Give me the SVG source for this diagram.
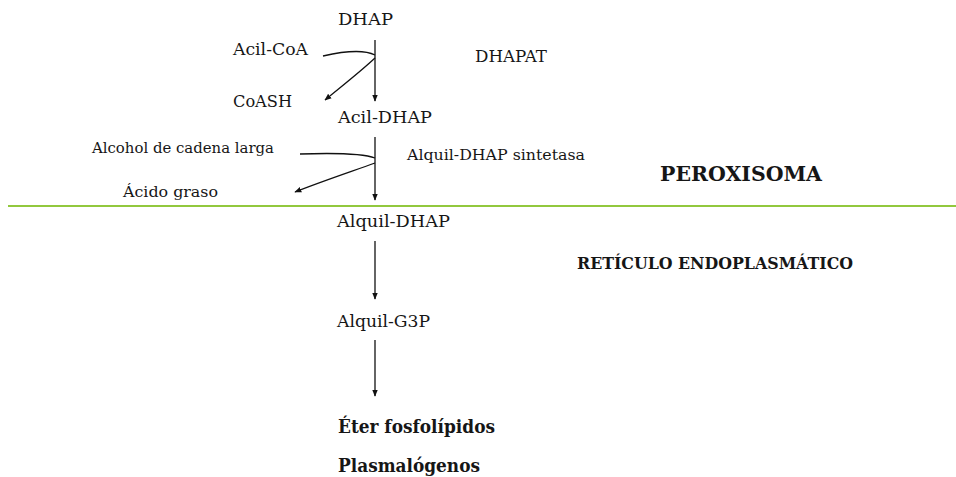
<svg xmlns="http://www.w3.org/2000/svg" width="956" height="477" viewBox="0 0 956 477">
  <style>
    .lbl { font-size: 16px; }
    .sm { font-size: 14px; }
    .bold { font-weight: bold; }
    .conn { fill: none; stroke: #111; stroke-width: 1.3; }
  </style>
  <defs>
    <marker id="arr" viewBox="0 0 10 10" refX="9" refY="5" markerWidth="7" markerHeight="7" orient="auto" markerUnits="userSpaceOnUse">
      <path d="M0,1 L10,5 L0,9 Z" fill="#111"/>
    </marker>
  </defs>

  <rect width="956" height="477" fill="#fff"/>

  <!-- membrane between compartments -->
  <line x1="8" y1="206" x2="956" y2="206" stroke="#92c83e" stroke-width="2"/>

  <g id="connectors">
    <line class="conn" x1="375" y1="40" x2="375" y2="101" marker-end="url(#arr)"/>
    <path class="conn" d="M323,56 C345,51 365,50 375,55"/>
    <path class="conn" d="M375,58 C360,72 342,86 325,100" marker-end="url(#arr)"/>
    <line class="conn" x1="375" y1="137" x2="375" y2="200" marker-end="url(#arr)"/>
    <path class="conn" d="M300,154 C330,153 362,153 375,158"/>
    <path class="conn" d="M375,163 C350,172 320,182 295,192" marker-end="url(#arr)"/>
    <line class="conn" x1="375" y1="241" x2="375" y2="299" marker-end="url(#arr)"/>
    <line class="conn" x1="375" y1="340" x2="375" y2="396" marker-end="url(#arr)"/>
  </g>

  <g font-family="DejaVu Serif, Liberation Serif, serif" fill="#161616">
    <g id="dhap"><text class="lbl" x="338" y="25" textLength="55" lengthAdjust="spacingAndGlyphs">DHAP</text></g>
    <g id="acil-coa"><text class="lbl" x="233" y="55" textLength="75" lengthAdjust="spacingAndGlyphs">Acil-CoA</text></g>
    <g id="coash"><text class="lbl" x="233" y="107" textLength="59" lengthAdjust="spacingAndGlyphs">CoASH</text></g>
    <g id="dhapat"><text class="lbl" x="475" y="62" textLength="72" lengthAdjust="spacingAndGlyphs">DHAPAT</text></g>
    <g id="acil-dhap"><text class="lbl" x="338" y="123" textLength="94" lengthAdjust="spacingAndGlyphs">Acil-DHAP</text></g>
    <g id="alcohol"><text class="sm" x="92" y="153" textLength="182" lengthAdjust="spacingAndGlyphs">Alcohol de cadena larga</text></g>
    <g id="sintetasa"><text class="sm" x="407" y="160" textLength="178" lengthAdjust="spacingAndGlyphs">Alquil-DHAP sintetasa</text></g>
    <g id="acido"><text class="sm" x="123" y="197" textLength="95" lengthAdjust="spacingAndGlyphs">Ácido graso</text></g>
    <g id="peroxisoma"><text class="bold" font-size="20" x="660" y="181" textLength="162" lengthAdjust="spacingAndGlyphs">PEROXISOMA</text></g>
    <g id="alquil-dhap"><text class="lbl" x="337" y="227" textLength="113" lengthAdjust="spacingAndGlyphs">Alquil-DHAP</text></g>
    <g id="reticulo"><text class="bold" font-size="16" x="577" y="269" textLength="276" lengthAdjust="spacingAndGlyphs">RETÍCULO ENDOPLASMÁTICO</text></g>
    <g id="alquil-g3p"><text class="lbl" x="337" y="327" textLength="93" lengthAdjust="spacingAndGlyphs">Alquil-G3P</text></g>
    <g id="eter"><text class="bold" font-size="18" x="338" y="433" textLength="157" lengthAdjust="spacingAndGlyphs">Éter fosfolípidos</text></g>
    <g id="plasmalogenos"><text class="bold" font-size="18" x="338" y="472" textLength="142" lengthAdjust="spacingAndGlyphs">Plasmalógenos</text></g>
  </g>
</svg>
